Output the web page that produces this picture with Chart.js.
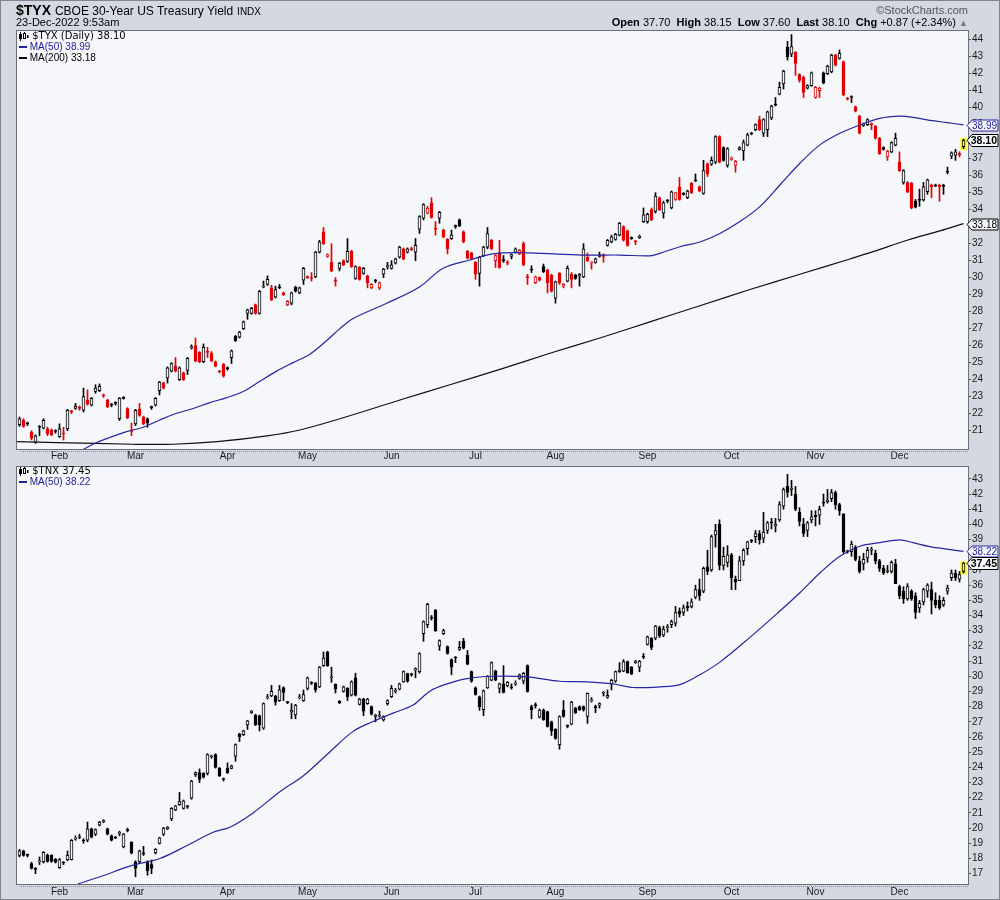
<!DOCTYPE html>
<html>
<head>
<meta charset="utf-8">
<title>$TYX / $TNX daily</title>
<script src="https://cdn.jsdelivr.net/npm/chart.js@4.4.1/dist/chart.umd.min.js"></script>
<style>
  html,body{margin:0;padding:0;background:#d3d8e1;}
  #wrap{position:relative;width:1000px;height:900px;overflow:hidden;background:#d3d8e1;}
  #frame{position:absolute;left:0;top:0;width:1000px;height:900px;box-sizing:border-box;border:1px solid #80858f;pointer-events:none;z-index:20;}
  canvas{position:absolute;left:0;}
  .t{position:absolute;white-space:nowrap;font-family:"Liberation Sans",Arial,sans-serif;color:#000;z-index:10;line-height:12px;}
  .lg{font-size:10px;}
  .ic{display:inline-block;vertical-align:middle;}
</style>
</head>
<body>
<div id="wrap">
  <canvas id="c1" width="1000" height="462" style="top:0"></canvas>
  <canvas id="c2" width="1000" height="440" style="top:460px"></canvas>

  <div class="t" style="left:16px;top:3px;font-size:14px;line-height:14px;"><b>$TYX</b> <span style="font-size:12px;">CBOE 30-Year US Treasury Yield</span> <span style="font-size:10px;">INDX</span></div>
  <div class="t" style="left:16px;top:16px;font-size:11px;">23-Dec-2022 9:53am</div>
  <div class="t" style="right:32px;top:4px;font-size:11px;color:#555;">©StockCharts.com</div>
  <div class="t" style="right:32px;top:16px;font-size:11px;"><b>Open</b> 37.70&nbsp; <b>High</b> 38.15&nbsp; <b>Low</b> 37.60&nbsp; <b>Last</b> 38.10&nbsp; <b>Chg</b> +0.87 (+2.34%) <span style="color:#777;font-size:9px;">▲</span></div>

  <div class="t" style="left:19px;top:30px;font-family:'DejaVu Sans',sans-serif;font-size:10px;"><svg class="ic" width="10" height="9" viewBox="0 0 10 9"><rect x="0.5" y="2.5" width="2" height="4" fill="#000" stroke="#000"/><line x1="1.5" y1="0" x2="1.5" y2="9" stroke="#000"/><rect x="4.5" y="1.5" width="2" height="5" fill="#fff" stroke="#000"/><line x1="5.5" y1="0" x2="5.5" y2="1.5" stroke="#000"/><rect x="8" y="3" width="1.5" height="3" fill="#000"/></svg> $TYX (Daily) 38.10</div>
  <div class="t lg" style="left:19px;top:41px;color:#22229a;"><span class="ic" style="width:8px;height:2px;background:#22229a;"></span> MA(50) 38.99</div>
  <div class="t lg" style="left:19px;top:52px;"><span class="ic" style="width:8px;height:2px;background:#000;"></span> MA(200) 33.18</div>

  <div class="t" style="left:19px;top:465px;font-family:'DejaVu Sans',sans-serif;font-size:10px;"><svg class="ic" width="10" height="9" viewBox="0 0 10 9"><rect x="0.5" y="2.5" width="2" height="4" fill="#000" stroke="#000"/><line x1="1.5" y1="0" x2="1.5" y2="9" stroke="#000"/><rect x="4.5" y="1.5" width="2" height="5" fill="#fff" stroke="#000"/><line x1="5.5" y1="0" x2="5.5" y2="1.5" stroke="#000"/><rect x="8" y="3" width="1.5" height="3" fill="#000"/></svg> $TNX 37.45</div>
  <div class="t lg" style="left:19px;top:476px;color:#22229a;"><span class="ic" style="width:8px;height:2px;background:#22229a;"></span> MA(50) 38.22</div>
  <div id="frame"></div>
</div>
<script>
// ---------- categories: trading days from 18-Jan-2022 to 23-Dec-2022 (index 0..236) ----------
const firstTradingDay = '2022-01-18';
const monthLabels   = ['Feb','Mar','Apr','May','Jun','Jul','Aug','Sep','Oct','Nov','Dec'];
const monthStartIdx = [10, 29, 52, 72, 93, 114, 134, 157, 178, 199, 220];
const tyxTicks = [21,22,23,24,25,26,27,28,29,30,31,32,33,34,35,36,37,38,39,40,41,42,43,44];
const tnxTicks = [17,18,19,20,21,22,23,24,25,26,27,28,29,30,31,32,33,34,35,36,37,38,39,40,41,42,43];

// ---------- $TYX daily bars [open, high, low, close] ----------
const tyxBars = [
[21.35,21.8,21.25,21.7],[21.6,21.7,21.2,21.25],[21.45,21.5,21.3,21.4],[20.9,21.0,20.45,20.55],[20.3,20.75,20.25,20.7],
[21.25,21.3,20.7,21.2],[21.15,21.7,21.1,21.6],[21.1,21.2,20.7,20.8],[21.05,21.1,20.7,20.75],[21.0,21.05,20.85,20.95],
[20.65,21.4,20.6,21.1],[20.85,21.2,20.45,20.8],[21.1,22.25,21.0,22.2],[22.15,22.2,22.0,22.1],[22.3,22.6,22.25,22.45],
[22.4,22.45,22.2,22.3],[22.2,23.5,22.1,23.0],[22.8,23.4,22.5,22.55],[22.5,22.95,22.45,22.9],[23.3,23.7,23.2,23.5],
[23.35,23.75,23.3,23.6],[23.1,23.15,22.95,23.05],[22.8,22.85,22.35,22.4],[22.55,22.6,22.4,22.5],[22.65,22.7,22.5,22.6],
[21.7,22.95,21.6,22.9],[22.95,23.0,22.85,22.9],[22.3,22.35,21.7,21.75],[21.0,21.45,20.7,20.95],[21.4,22.25,21.3,22.2],
[22.25,22.6,21.85,21.9],[21.8,21.85,21.35,21.4],[21.7,21.75,21.2,21.45],[22.4,22.45,22.25,22.35],[22.5,22.95,22.45,22.9],
[23.35,23.9,23.1,23.85],[23.8,23.85,23.45,23.5],[24.1,24.75,23.8,24.7],[24.5,25.0,24.45,24.95],[24.8,25.3,24.45,24.5],
[24.0,24.75,23.95,24.7],[24.4,24.45,23.95,24.0],[24.55,25.3,24.3,25.25],[25.85,26.05,25.8,25.95],[26.0,26.45,25.05,25.1],
[25.6,25.65,25.0,25.05],[25.06,26.1,25.0,25.9],[25.65,25.9,25.3,25.6],[25.55,25.65,25.05,25.1],[25.05,25.1,24.75,24.8],
[24.5,24.55,24.4,24.45],[24.9,24.95,24.15,24.2],[24.7,24.75,24.55,24.65],[25.3,25.75,24.95,25.7],[26.55,26.6,26.25,26.3],
[26.5,26.85,26.45,26.8],[27.0,27.45,26.95,27.4],[27.9,28.15,27.55,28.1],[27.9,28.25,27.85,28.2],[28.4,28.45,27.85,27.9],
[27.9,29.25,27.85,29.2],[29.45,29.8,29.4,29.5],[29.6,30.1,29.55,29.9],[29.4,29.55,28.65,28.7],[28.85,29.5,28.8,29.3],
[29.45,29.6,29.35,29.4],[29.1,29.15,28.95,29.0],[28.4,28.65,28.35,28.6],[28.5,29.15,28.4,29.1],[29.45,29.5,29.15,29.2],
[29.1,29.45,29.05,29.4],[29.85,30.6,29.6,30.55],[30.05,30.1,29.95,30.0],[30.0,30.3,29.8,29.95],[30.05,31.55,30.0,31.5],
[31.5,32.2,31.45,32.1],[32.7,32.95,31.95,32.0],[31.25,31.4,31.2,31.35],[30.9,32.0,30.35,30.4],[29.85,30.0,29.5,29.8],
[30.55,30.9,30.4,30.85],[31.0,31.05,30.7,30.75],[30.95,32.3,30.9,31.55],[31.55,31.6,30.6,30.65],[29.95,30.7,29.9,30.65],
[30.6,30.65,29.85,29.9],[30.25,30.6,30.2,30.55],[30.1,30.15,29.4,29.7],[29.4,29.65,29.35,29.6],[29.85,29.9,29.7,29.8],
[29.4,29.75,29.3,29.7],[30.2,30.55,30.0,30.5],[30.65,30.9,30.5,30.7],[30.55,31.0,30.5,30.75],[30.85,31.15,30.8,31.1],
[31.2,31.85,31.15,31.8],[31.7,31.75,31.05,31.1],[31.5,31.75,31.45,31.7],[31.7,31.8,31.6,31.65],[31.5,32.3,31.0,31.9],
[32.85,33.65,32.6,33.6],[33.5,34.35,33.4,34.3],[33.8,34.2,33.75,34.1],[34.4,34.7,33.5,33.55],[32.9,33.3,32.5,32.85],
[33.5,33.9,33.2,33.85],[32.8,32.85,32.35,32.4],[32.25,32.3,31.4,31.7],[32.3,32.8,32.25,32.5],[33.05,33.1,32.9,33.0],
[33.4,33.45,33.0,33.05],[32.7,32.75,32.05,32.1],[31.55,31.6,31.1,31.15],[31.45,31.5,31.05,31.1],[30.9,30.95,29.9,30.2],
[30.25,31.25,29.5,31.2],[31.3,31.85,31.25,31.8],[31.8,32.95,31.7,32.6],[32.2,32.25,31.65,31.7],[31.0,31.35,30.6,31.3],
[31.45,32.2,30.55,30.6],[31.05,31.3,30.9,31.0],[30.9,31.0,30.75,30.85],[31.25,31.4,31.1,31.35],[31.5,31.75,31.45,31.7],
[31.4,31.65,31.35,31.6],[32.0,32.1,30.7,30.75],[30.05,30.2,29.6,30.0],[30.5,30.7,30.3,30.45],[29.7,30.1,29.65,30.05],
[30.0,30.05,29.8,29.85],[30.65,30.8,30.3,30.35],[30.45,30.5,29.1,29.7],[30.15,30.2,29.15,29.2],[28.8,29.8,28.5,29.75],
[30.25,30.3,29.6,29.7],[29.5,29.65,29.4,29.6],[29.8,30.7,29.75,30.55],[30.2,30.3,29.4,29.9],[30.15,30.2,29.9,29.95],
[30.1,30.25,29.5,30.2],[30.05,32.0,30.0,31.7],[31.2,31.45,30.95,31.0],[30.85,30.95,30.5,30.9],[30.9,31.15,30.85,31.1],
[31.25,31.5,31.2,31.3],[31.32,31.4,30.9,31.25],[31.9,32.25,31.85,32.2],[32.1,32.5,32.05,32.4],[32.25,32.6,32.2,32.55],
[32.5,33.25,32.45,33.2],[33.0,33.05,32.15,32.2],[32.75,32.8,31.85,31.9],[32.35,32.4,32.25,32.3],[32.15,32.2,31.95,32.1],
[32.35,32.5,32.3,32.45],[33.3,34.1,33.25,33.7],[33.3,33.8,33.2,33.72],[34.0,34.1,33.35,33.4],[33.9,35.0,33.8,34.8],
[34.7,34.75,33.95,34.0],[33.8,34.5,33.5,34.4],[34.55,34.6,34.4,34.5],[34.1,35.1,34.05,35.05],[34.6,35.0,34.55,35.0],
[35.35,35.9,34.55,34.6],[34.95,35.0,34.85,34.9],[34.7,35.15,34.65,35.1],[35.55,35.6,34.95,35.0],[35.75,36.1,35.65,35.7],
[35.35,35.4,35.05,35.1],[34.95,36.9,34.9,36.3],[36.7,36.75,35.95,36.1],[36.67,37.1,36.6,36.9],[36.8,38.35,36.7,38.3],
[38.3,38.35,36.75,36.8],[37.65,37.7,36.85,36.9],[36.6,37.65,36.5,37.6],[36.95,37.1,36.9,37.05],[36.6,36.9,36.2,36.85],
[37.55,37.7,37.5,37.65],[37.45,38.1,36.9,37.95],[37.8,38.5,37.75,38.4],[38.5,38.55,38.4,38.45],[38.7,39.05,38.65,39.0],
[39.3,39.5,38.65,38.7],[38.5,39.35,38.3,39.3],[38.7,39.8,38.3,39.75],[39.4,40.15,39.3,40.1],[40.2,40.6,40.1,40.15],
[40.8,41.5,40.75,41.2],[41.4,42.2,41.1,42.15],[43.55,43.9,42.8,43.0],[43.15,44.3,43.0,43.6],[43.25,43.3,41.9,42.6],
[41.95,42.0,41.5,41.6],[41.8,41.85,40.6,40.9],[41.15,41.35,41.1,41.3],[41.3,42.1,41.25,42.05],[40.6,41.25,40.55,41.2],
[41.0,41.2,40.6,41.15],[42.05,42.1,41.4,41.45],[42.0,42.5,41.95,42.45],[42.1,43.15,42.05,43.1],[43.1,43.15,42.45,42.5],
[42.9,43.4,42.85,43.2],[42.7,42.75,40.7,40.75],[40.55,40.6,40.45,40.5],[40.65,40.7,40.3,40.6],[40.05,40.1,39.75,39.8],
[39.5,39.55,38.45,38.5],[38.95,39.1,38.9,39.05],[39.0,39.35,38.95,39.3],[39.05,39.1,38.7,39.0],[38.9,38.95,38.15,38.2],
[38.2,38.25,37.25,37.3],[37.65,37.7,37.5,37.55],[37.1,37.5,36.9,37.45],[37.4,38.0,37.35,37.95],[37.8,38.5,37.75,38.2],
[36.8,37.4,36.25,36.3],[35.6,36.35,35.5,36.3],[35.6,35.65,35.0,35.05],[35.55,35.6,34.05,34.1],[34.5,34.6,34.1,34.15],
[34.6,35.2,34.2,34.55],[34.57,35.6,34.5,35.35],[35.06,35.8,34.9,35.75],[35.45,35.5,34.7,35.35],[35.45,35.5,35.35,35.4],
[35.45,35.5,34.5,35.35],[35.45,35.5,34.9,35.36],[36.25,36.5,36.1,36.2],[37.15,37.4,37.0,37.35],[37.2,37.55,36.9,37.4],
[37.3,37.4,37.1,37.23],[37.70,38.15,37.60,38.10]
];

// ---------- $TNX daily bars [open, high, low, close] ----------
const tnxBars = [
[18.2,18.6,18.1,18.5],[18.5,18.55,18.15,18.2],[18.25,18.3,18.1,18.2],[17.67,17.75,17.3,17.35],[17.3,17.4,17.0,17.28],
[17.78,18.1,17.6,17.8],[17.78,18.45,17.7,18.4],[18.2,18.3,17.75,17.8],[18.2,18.25,17.75,17.8],[17.95,18.0,17.7,17.75],
[17.4,18.0,17.35,17.93],[17.75,17.8,17.6,17.7],[17.9,18.5,17.85,18.2],[17.93,19.25,17.9,19.2],[19.28,19.5,19.2,19.3],
[19.38,19.6,19.3,19.4],[19.2,19.3,19.0,19.15],[19.2,20.4,19.1,19.95],[19.95,20.0,19.35,19.4],[19.6,19.95,19.5,19.9],
[20.2,20.45,20.15,20.4],[20.4,20.55,20.35,20.5],[19.95,20.0,19.55,19.6],[19.5,19.55,19.15,19.2],[19.4,19.45,19.3,19.35],
[19.65,19.8,19.5,19.67],[18.76,19.65,18.7,19.6],[19.9,20.0,19.75,19.84],[19.08,19.1,18.3,18.36],[17.78,17.85,16.8,17.35],
[17.78,18.55,17.7,18.5],[18.35,18.8,18.2,18.3],[17.78,17.85,16.9,17.2],[17.6,17.9,17.0,17.35],[18.36,18.65,18.3,18.6],
[19.0,19.4,18.95,19.36],[19.6,20.05,19.5,20.0],[19.95,20.1,19.9,20.05],[20.6,21.35,20.5,21.3],[21.2,21.5,21.15,21.47],
[21.54,22.35,21.5,21.75],[21.3,21.85,21.25,21.8],[21.45,21.5,21.3,21.4],[21.97,23.15,21.9,23.1],[23.5,23.7,23.4,23.65],
[23.65,23.9,23.0,23.2],[23.6,23.65,23.3,23.35],[23.6,24.9,23.5,24.85],[24.7,24.8,24.6,24.75],[24.85,24.9,23.95,24.0],
[23.93,24.0,23.4,23.43],[23.25,23.3,23.1,23.2],[23.93,24.3,23.6,23.65],[23.93,24.15,23.9,24.1],[24.74,25.55,24.4,25.5],
[26.2,26.25,25.7,26.0],[26.15,26.45,26.1,26.4],[26.8,27.1,26.5,27.06],[27.6,27.75,27.55,27.7],[27.45,27.5,26.75,26.8],
[27.4,27.45,26.4,26.8],[26.58,28.25,26.5,28.2],[28.58,28.8,28.5,28.6],[28.7,29.4,28.65,29.0],[28.7,28.75,28.1,28.3],
[28.4,29.4,28.35,29.1],[29.26,29.3,28.4,28.93],[28.3,28.35,28.2,28.26],[27.65,28.2,27.2,27.75],[27.45,28.15,27.2,28.1],
[28.58,28.8,28.5,28.6],[28.4,29.1,28.35,28.8],[29.2,29.95,29.1,29.9],[29.58,29.65,29.45,29.54],[29.54,29.6,28.95,29.1],
[29.3,30.65,29.25,30.6],[30.7,31.6,30.65,31.2],[31.6,31.65,30.65,30.7],[29.9,30.6,29.6,29.92],[29.47,29.5,28.9,29.15],
[28.35,28.4,28.2,28.25],[29.0,29.35,28.95,29.3],[29.2,29.25,28.4,28.65],[28.76,29.7,28.7,29.63],[29.9,30.2,28.7,28.76],
[28.15,28.55,28.1,28.5],[28.5,28.55,27.4,27.7],[28.2,28.55,28.15,28.5],[28.0,28.05,27.45,27.5],[27.35,27.5,27.0,27.45],
[27.38,27.7,27.3,27.45],[27.13,27.4,27.05,27.35],[28.2,28.45,28.1,28.4],[28.65,29.4,28.6,29.2],[29.0,29.2,28.9,29.02],
[29.15,29.55,29.1,29.5],[29.63,30.35,29.6,30.3],[30.17,30.2,29.6,29.67],[30.15,30.2,30.0,30.1],[30.4,30.55,29.9,30.5],
[30.3,31.55,30.2,31.5],[32.8,33.65,32.3,33.6],[33.4,34.8,33.2,34.74],[33.9,34.0,33.7,33.83],[34.35,34.4,32.95,33.0],
[32.0,32.4,31.7,32.35],[32.8,33.1,32.75,33.0],[31.96,32.0,31.45,31.5],[31.1,31.15,30.1,30.6],[31.25,31.3,30.9,31.2],
[31.76,32.3,31.7,31.9],[32.3,32.5,31.8,31.85],[31.4,31.7,30.75,30.8],[30.3,30.35,29.6,29.67],[29.24,29.3,28.75,28.8],
[28.65,28.7,27.75,28.0],[27.8,29.1,27.4,29.04],[29.24,30.05,29.2,30.0],[29.74,30.95,29.7,30.9],[30.35,30.4,29.7,29.74],
[29.2,29.55,28.9,29.5],[29.5,30.7,28.9,28.93],[29.37,29.65,29.3,29.6],[29.28,29.5,29.15,29.24],[29.48,29.7,29.4,29.5],
[29.85,30.15,29.8,30.1],[29.67,30.25,29.5,30.2],[30.7,30.75,28.95,29.0],[28.0,28.1,27.2,27.78],[28.1,28.25,27.9,28.07],
[27.3,27.85,27.25,27.78],[27.78,27.85,27.1,27.13],[27.67,27.7,26.65,26.7],[27.0,27.05,26.1,26.4],[26.5,26.55,25.85,25.9],
[25.5,27.4,25.2,27.35],[27.78,28.4,27.3,27.35],[26.75,26.8,26.6,26.7],[26.85,28.35,26.8,28.3],[27.9,27.95,27.55,27.6],
[28.0,28.05,27.75,27.78],[28.0,28.05,27.7,27.8],[27.35,28.9,26.9,28.87],[28.38,28.6,28.3,28.4],[27.98,28.1,27.6,27.93],
[28.1,28.25,27.9,28.2],[28.88,29.0,28.7,28.9],[28.6,29.1,28.55,28.75],[29.5,29.8,29.1,29.74],[29.67,30.35,29.6,30.3],
[30.3,30.9,30.25,30.43],[30.33,31.1,30.3,30.97],[30.97,31.0,30.2,30.24],[30.6,30.65,30.1,30.17],[30.9,31.05,30.85,31.0],
[30.6,31.05,30.3,31.0],[31.3,31.5,31.15,31.26],[32.1,32.65,32.05,32.6],[32.5,32.55,31.75,31.9],[32.5,33.35,32.4,33.3],
[33.2,33.3,32.55,32.65],[32.7,33.3,32.6,33.1],[33.2,33.4,32.9,33.25],[33.4,33.7,33.2,33.6],[33.5,34.6,33.3,34.2],
[34.3,34.5,33.9,34.1],[34.2,34.7,34.0,34.5],[34.6,34.9,34.3,34.5],[34.6,35.1,34.5,34.9],[35.2,36.0,35.1,35.7],
[35.7,36.4,35.0,35.3],[35.6,37.2,35.5,37.1],[37.2,38.3,36.7,36.9],[37.0,39.3,36.9,39.2],[39.3,40.0,38.5,39.6],
[40.0,40.3,37.0,37.3],[37.3,38.5,37.0,37.9],[37.5,38.6,37.2,38.0],[38.0,38.1,35.7,36.5],[36.4,36.6,35.7,36.2],
[36.3,37.9,36.3,37.6],[37.6,38.4,37.3,38.3],[38.4,38.9,38.0,38.85],[38.9,39.0,38.8,38.9],[39.2,39.6,38.8,39.4],
[39.4,39.6,38.7,39.0],[39.1,40.8,38.8,39.5],[39.6,40.2,39.4,40.1],[40.1,40.4,39.7,40.1],[39.9,40.4,39.5,40.0],
[40.3,41.5,40.2,41.3],[41.2,42.4,41.0,42.3],[42.5,43.3,41.8,42.1],[42.3,42.9,41.9,42.4],[42.0,42.5,40.9,41.0],
[40.8,41.1,39.9,40.2],[40.0,40.4,39.2,39.4],[39.6,40.2,39.2,40.1],[40.3,40.9,40.1,40.5],[40.6,40.9,39.9,40.5],
[40.6,41.2,40.0,41.0],[41.4,42.0,41.2,41.4],[41.5,42.3,41.4,41.6],[41.7,42.3,41.5,42.1],[42.1,42.2,41.0,41.3],
[41.3,41.4,40.6,40.9],[40.7,40.7,38.1,38.2],[38.2,38.3,38.1,38.22],[38.2,38.9,37.9,38.7],[38.5,38.6,37.6,37.7],
[37.6,37.9,36.8,36.9],[37.4,38.1,37.0,37.7],[37.8,38.5,37.5,38.3],[38.3,38.5,38.0,38.35],[38.1,38.3,37.4,37.6],
[37.6,37.7,36.9,37.1],[37.1,37.3,36.7,36.8],[36.9,37.3,36.8,36.95],[36.9,37.6,36.8,37.5],[37.4,37.7,36.1,36.1],
[35.9,36.0,35.1,35.3],[35.6,35.9,34.8,35.1],[35.1,36.1,35.0,35.9],[35.6,35.7,35.0,35.1],[35.3,35.5,33.8,34.2],
[34.5,35.0,34.2,34.8],[34.9,35.8,34.7,35.7],[35.6,36.1,35.2,36.0],[35.7,36.2,34.1,35.0],[35.0,35.5,34.5,34.7],
[35.0,35.3,34.4,34.5],[34.7,35.2,34.6,35.0],[35.6,36.0,35.4,35.8],[36.5,37.0,36.3,36.8],[36.8,37.0,36.3,36.5],
[36.4,36.9,36.2,36.7],[36.9,37.5,36.8,37.45]
];

// ---------- moving averages (trading-day index, value) ----------
const tyxMA50Idx = [15.95,19.3,22.6,26.8,30.9,35.1,39.3,43.4,47.6,51.8,55.9,60.1,64.3,68.4,72.6,76.8,80.1,83.4,91.8,100.1,105.9,112.6,118.4,125.1,133.4,141.9,150.1,157.6,160.1,165.1,170.1,175.1,180.1,185.1,190.1,195.1,200.1,205.1,210.1,215.1,220.1,223.4,226.9,231.9,236];
const tyxMA50    = [19.9,20.3,20.6,20.94,21.2,21.63,22.02,22.3,22.65,22.94,23.3,23.9,24.5,25.0,25.5,26.3,27.0,27.6,28.49,29.47,30.55,31.04,31.4,31.47,31.4,31.33,31.33,31.28,31.43,31.82,32.1,32.6,33.3,34.18,35.45,36.73,37.81,38.49,38.98,39.37,39.5,39.43,39.28,39.12,38.99];
const tyxMA200Idx = [-1,9.4,28.4,38.4,49.4,61.9,70.1,80.1,95.1,107.6,120.1,132.6,145.1,157.6,170.1,182.6,195.1,207.6,213.4,221.9,230.1,236];
const tyxMA200    = [20.35,20.3,20.2,20.2,20.35,20.69,21.04,21.7,22.8,23.7,24.6,25.55,26.45,27.4,28.35,29.3,30.2,31.1,31.53,32.2,32.75,33.18];
const tnxMA50Idx = [14.6,20.1,28.4,35.1,41.9,48.4,52.6,58.4,65.1,70.9,76.9,83.4,88.4,93.4,98.4,102.6,106.9,111.9,118.4,126.9,135.1,141.9,148.4,153.4,160.1,165.1,170.1,175.1,182.6,190.1,195.1,200.1,205.1,210.1,215.1,220.1,223.4,227.6,231.9,236];
const tnxMA50    = [16.32,16.8,17.56,18.0,18.86,19.73,20.06,21.0,22.4,23.43,24.85,26.37,27.02,27.57,28.11,29.02,29.5,29.85,30.0,29.96,29.67,29.63,29.5,29.26,29.3,29.45,30.1,30.93,32.56,34.3,35.5,36.8,37.9,38.56,38.8,38.98,38.8,38.54,38.37,38.22];

// ---------- styling ----------
const RED='#e00000', BLACK='#000000', BLUE='#2626a0', PLOTBG='#f6f7fb', YELLOW='#ffff40', FRAME='#6c6f78';
const XMIN = -0.625, XMAX = XMIN + 951/4;

function candleSets(bars, useRed){
  const n = bars.length;
  const wick=[], body=[], wc=[], bb=[], bc=[];
  bars.forEach((b,i)=>{
    const o=b[0], h=b[1], l=b[2], c=b[3];
    const prev = i>0 ? bars[i-1][3] : c;
    const col = (useRed && c < prev) ? RED : BLACK;
    wick.push({x:i, y:[l,h]}); wc.push(col);
    body.push({x:i, y:[Math.min(o,c), Math.max(o,c)]}); bc.push(col);
    bb.push(c > o ? (i===n-1 ? YELLOW : PLOTBG) : col);
  });
  const last = bars[n-1];
  return [
    {type:'bar', data:[{x:n-1, y:[last[2]-0.1, last[1]+0.05]}], backgroundColor:YELLOW, barThickness:6, grouped:false, order:5},
    {type:'bar', data:wick, backgroundColor:wc, barThickness:1, grouped:false, minBarLength:1, order:4},
    {type:'bar', data:body, backgroundColor:bb, borderColor:bc, borderWidth:1, borderSkipped:false, barThickness:3, grouped:false, minBarLength:1, order:3}
  ];
}
function maSet(idx, vals, color){
  return {type:'line', data: idx.map((x,k)=>({x:x, y:vals[k]})), borderColor:color, borderWidth:1.2,
          pointRadius:0, tension:0.35, fill:false, order:1};
}

const framePlugin = {
  id:'frame',
  beforeDatasetsDraw(chart){
    const {ctx, chartArea:a} = chart;
    ctx.save(); ctx.fillStyle = PLOTBG; ctx.fillRect(a.left, a.top, a.right-a.left, a.bottom-a.top); ctx.restore();
  },
  afterDraw(chart, args, opts){
    const {ctx, chartArea:a} = chart;
    ctx.save();
    ctx.strokeStyle = FRAME; ctx.lineWidth = 1;
    ctx.strokeRect(a.left-0.5, a.top-0.5, a.right-a.left+1, a.bottom-a.top+1);
    // dotted day ticks below the axis
    ctx.strokeStyle = '#8a8d96'; ctx.setLineDash([1,1]);
    ctx.beginPath(); ctx.moveTo(a.left+4, a.bottom+2.5); ctx.lineTo(a.right, a.bottom+2.5); ctx.stroke();
    ctx.setLineDash([]);
    // value tags on right axis
    const ys = chart.scales.y;
    (opts.tags||[]).forEach(t=>{
      const y = Math.round(ys.getPixelForValue(t.value)) + 0.5;
      const x0 = a.right - 1, hh = t.bold ? 6 : 5.5;
      ctx.beginPath();
      ctx.moveTo(x0, y); ctx.lineTo(x0+5, y-hh); ctx.lineTo(998, y-hh); ctx.lineTo(998, y+hh); ctx.lineTo(x0+5, y+hh); ctx.closePath();
      ctx.fillStyle = PLOTBG; ctx.fill();
      ctx.strokeStyle = t.color; ctx.lineWidth = 1; ctx.stroke();
      ctx.fillStyle = t.color;
      ctx.font = (t.bold ? 'bold 10.5px ' : '10px ') + '"Liberation Sans", Arial, sans-serif';
      ctx.textBaseline = 'middle'; ctx.textAlign = 'right';
      ctx.fillText(t.text, 997, y+0.5);
    });
    ctx.restore();
  }
};

function makeChart(id, bars, useRed, lines, ymin, ymax, ticks, padTop, xAxisH, labelPad, tags){
  return new Chart(document.getElementById(id), {
    type:'bar',
    data:{ datasets: lines.concat(candleSets(bars, useRed)) },
    options:{
      responsive:false, animation:false, devicePixelRatio:1,
      layout:{ padding:{ left:17, top:padTop, right:0, bottom:0 } },
      plugins:{ legend:{display:false}, tooltip:{enabled:false}, frame:{ tags: tags } },
      scales:{
        x:{ type:'linear', min:XMIN, max:XMAX, offset:false,
            grid:{ display:false, drawTicks:false }, border:{ display:false },
            afterBuildTicks:(s)=>{ s.ticks = monthStartIdx.map(v=>({value:v})); },
            afterFit:(s)=>{ s.height = xAxisH; },
            ticks:{ autoSkip:false, maxRotation:0, padding:labelPad, color:'#1a1a1a',
                    font:{ family:'"Liberation Sans", Arial, sans-serif', size:10 },
                    callback:(v)=>{ const k = monthStartIdx.indexOf(v); return k>=0 ? monthLabels[k] : ''; } } },
        y:{ type:'linear', position:'right', min:ymin, max:ymax,
            grid:{ drawOnChartArea:false, drawTicks:true, tickLength:3, color:'#555' }, border:{ display:false },
            afterBuildTicks:(s)=>{ s.ticks = ticks.map(v=>({value:v})); },
            afterFit:(s)=>{ s.width = 32; },
            ticks:{ padding:1, color:'#1a1a1a', font:{ family:'"Liberation Sans", Arial, sans-serif', size:10 } } }
      }
    },
    plugins:[framePlugin]
  });
}

makeChart('c1', tyxBars, true,
  [maSet(tyxMA50Idx, tyxMA50, BLUE), maSet(tyxMA200Idx, tyxMA200, '#111111')],
  19.92, 44.51, tyxTicks, 31, 13, 1,
  [{value:38.99, text:'38.99', color:BLUE}, {value:38.10, text:'38.10', color:'#000', bold:true}, {value:33.18, text:'33.18', color:'#000'}]);

makeChart('c2', tnxBars, false,
  [maSet(tnxMA50Idx, tnxMA50, BLUE)],
  16.32, 43.78, tnxTicks, 3, 16, 2,
  [{value:38.22, text:'38.22', color:BLUE}, {value:37.45, text:'37.45', color:'#000', bold:true}]);
</script>
</body>
</html>
